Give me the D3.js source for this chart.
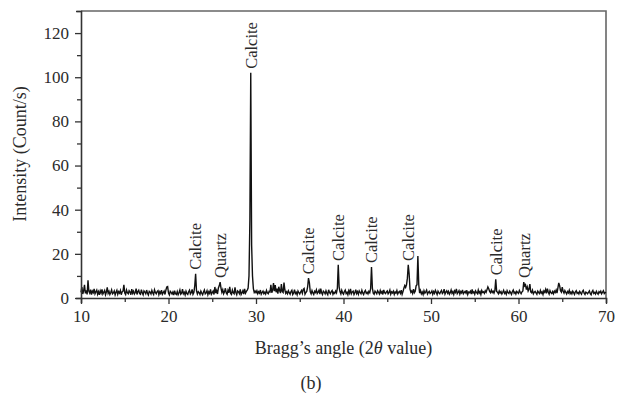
<!DOCTYPE html>
<html lang="en">
<head>
    <meta charset="utf-8"/>
    <title>XRD pattern (b)</title>
    <script src="https://d3js.org/d3.v7.min.js"></script>
    <style>
        body { margin: 0; background: #fff; }
        svg text { font-family: "Liberation Serif", "DejaVu Serif", serif; fill: #2b2b2b; }
    </style>
</head>
<body>
<svg id="chart" width="620" height="396"></svg>
<script>
    // 2theta from 10.0 to 70.0, step 0.1 (one row = one degree)
    const startAngle = 10;
    const stepAngle = 0.1;
    const counts = [
        2.5, 5, 1.8, 3.2, 6, 2.1, 3.5, 1.6, 8, 3,
        2.2, 3.8, 1.5, 3.1, 2.4, 4.1, 1.9, 2.8, 3.6, 1.7,
        2.9, 1.4, 3.3, 2.2, 3.9, 1.8, 2.6, 3.4, 1.5, 2.7,
        4.8, 2.1, 3, 1.6, 2.5, 3.7, 1.9, 2.3, 3.2, 1.4,
        2.6, 3.5, 1.7, 2.9, 2.2, 3.4, 1.5, 2.8, 3.1, 6,
        2.3, 1.6, 3.6, 2.4, 1.9, 3.3, 2.7, 1.5, 4, 2.2,
        3.1, 1.8, 2.5, 4.2, 1.6, 2.9, 3.5, 2, 1.7, 3.8,
        2.4, 1.5, 3.2, 2.7, 1.9, 3.6, 2.2, 1.4, 3, 2.6,
        1.8, 3.4, 2.3, 1.6, 3.7, 2.5, 1.9, 2.9, 3.3, 1.5,
        2.8, 2.1, 3.5, 1.7, 2.4, 3.1, 1.6, 3.6, 5, 5.2,
        2.2, 1.4, 3, 2.5, 1.8, 2.7, 1.3, 3.3, 2, 1.6,
        2.9, 1.5, 2.4, 3.6, 1.7, 2.2, 4, 1.9, 2.6, 1.4,
        3.1, 2, 1.6, 2.8, 3.5, 1.8, 2.4, 3.9, 1.7, 2.5,
        5.5, 11, 3.2, 1.8, 2.9, 2.4, 1.6, 3.1, 2.2, 1.5,
        2.7, 3.6, 1.9, 2.3, 3.3, 1.5, 2.8, 2.1, 3.9, 1.7,
        2.4, 3.1, 1.6, 5, 2.2, 3.4, 1.8, 4.6, 5.5, 7.2,
        4.5, 2.6, 3.8, 1.9, 2.8, 4.4, 2.3, 1.7, 3.5, 2.4,
        5, 2.1, 1.6, 3.6, 2.4, 1.9, 4.8, 2.5, 1.5, 3.2,
        2.8, 2, 3.9, 1.6, 2.4, 3.3, 1.8, 4.1, 2.2, 3,
        3.6, 4.5, 10, 35, 102, 24, 10, 4.2, 2.5, 3.1,
        2.4, 3.3, 1.9, 2.8, 2.2, 3.6, 1.7, 2.5, 3.1, 2,
        2.6, 1.8, 3.4, 2.3, 1.9, 3, 2.7, 6, 2.4, 3.5,
        6.8, 3.1, 5.9, 2.6, 4.2, 2, 5.1, 3.4, 2.2, 6.3,
        3, 2.5, 7, 3.6, 2.1, 2.8, 1.9, 3.3, 2.4, 1.7,
        2.9, 3.5, 1.6, 2.3, 3.8, 2, 2.6, 1.5, 3.2, 2.4,
        1.8, 2.7, 3.4, 2.1, 3.9, 4.3, 1.7, 2.5, 3, 5,
        9, 7, 2.8, 1.9, 3.4, 2.3, 1.6, 3, 2.5, 3.7,
        2, 2.6, 3.5, 1.8, 4.2, 2.4, 1.6, 3.1, 2.7, 1.9,
        3.3, 2.2, 1.5, 3.7, 2.5, 1.9, 2.9, 3.4, 1.7, 2.6,
        2.1, 3.2, 2.4, 4.5, 15, 5, 2.8, 1.8, 3.5, 2.3,
        1.7, 2.9, 3.6, 2, 2.6, 1.5, 3.3, 2.2, 4.1, 1.9,
        2.7, 3.1, 1.6, 2.4, 3.8, 2, 2.9, 1.7, 3.2, 2.5,
        1.9, 3.5, 2.3, 1.6, 2.8, 3.4, 2.1, 2.6, 1.8, 3,
        2.4, 4.2, 14, 4.5, 2.2, 1.7, 3.1, 2.5, 1.9, 3.3,
        2.6, 1.8, 3.4, 2.2, 2.9, 1.6, 3.7, 2.4, 2, 2.8,
        3.2, 1.9, 2.5, 3.6, 1.7, 2.8, 2.3, 3.1, 1.6, 2.7,
        2.2, 3.4, 1.8, 2.6, 3, 2.1, 3.5, 1.7, 2.9, 4.4,
        5.6, 4.8, 6, 9, 15, 11, 4, 2.6, 3.2, 2.1,
        4, 2.4, 3.1, 5.5, 6, 19, 6, 2.2, 3.4, 1.9,
        2.7, 1.6, 3.3, 2.2, 2.8, 3.6, 1.8, 2.5, 3, 2,
        2.4, 3.2, 1.7, 2.9, 2.1, 3.5, 2.6, 1.6, 3.1, 2.3,
        1.9, 2.8, 3.4, 2, 2.5, 4, 1.8, 2.7, 3.3, 2.2,
        3, 1.7, 2.4, 3.6, 2.1, 2.9, 1.6, 3.2, 2.5, 4.1,
        2, 2.6, 3.3, 1.8, 2.9, 2.3, 3.7, 1.9, 2.5, 3,
        2.2, 3.5, 1.6, 2.7, 2.4, 3.1, 1.8, 3.9, 2.3, 2.8,
        1.7, 3.2, 2.5, 2, 3.6, 2.2, 2.9, 1.6, 3.4, 2.5,
        2.8, 2.1, 3.3, 2.6, 3.8, 5, 4.2, 3, 2.4, 3.6,
        2.5, 3.1, 2.2, 3.4, 8.5, 3, 2.6, 1.9, 3.2, 2.3,
        2.9, 1.8, 2.6, 3.5, 2.1, 2.7, 1.7, 3.3, 2.4, 2,
        3.1, 2.4, 1.6, 2.9, 3.6, 2.2, 2.7, 1.8, 3, 2.5,
        2.1, 3.4, 2.6, 1.9, 2.8, 3.2, 7.2, 5.5, 6, 3.8,
        5, 3.2, 4.1, 6.3, 2.8, 2.4, 3.5, 1.9, 2.6, 3,
        2.3, 1.7, 3.1, 2.5, 2, 3.4, 2.2, 2.8, 1.6, 3.2,
        2.6, 3.9, 2.1, 4.2, 2.7, 1.8, 3.3, 2.4, 2, 2.9,
        1.9, 3.1, 2.5, 3.6, 2.2, 4.5, 6.8, 5.6, 3.3, 2.7,
        4.9, 3, 2.2, 3.4, 2.6, 1.8, 2.9, 2.3, 3.5, 2,
        2.7, 1.9, 3.1, 2.4, 1.6, 2.8, 3.3, 2.1, 2.5, 1.8,
        3, 2.3, 1.7, 2.9, 3.5, 2.2, 1.6, 2.7, 2.4, 1.9,
        2.6, 3.2, 2, 1.5, 2.8, 3.4, 2.1, 2.5, 1.8, 3,
        2.2, 1.7, 2.9, 2.4, 3.1, 1.9, 2.6, 3.3, 2, 2.5,
        2.3
    ];

    // peak labels: angle, peak height, phase
    const peakAngles = [23.1, 25.9, 29.4, 36.0, 39.4, 43.2, 47.45, 57.4, 60.7];
    const peakHeights = [11, 7.2, 102, 9, 15, 14, 15, 8.5, 7.2];
    const peakNames = ["Calcite", "Quartz", "Calcite", "Calcite", "Calcite", "Calcite", "Calcite", "Calcite", "Quartz"];

    const xTicks = [10, 20, 30, 40, 50, 60, 70];
    const yTicks = [0, 20, 40, 60, 80, 100, 120];

    const margin = {top: 11, right: 14, bottom: 98, left: 81};
    const width = 620 - margin.left - margin.right;
    const height = 396 - margin.top - margin.bottom;

    const svg = d3.select("#chart");
    const g = svg.append("g").attr("transform", `translate(${margin.left},${margin.top})`);

    const x = d3.scaleLinear().domain([10, 70]).range([0, width]);
    const y = d3.scaleLinear().domain([0, 130]).range([height, 0]);

    const data = counts.map((c, i) => ({a: startAngle + i * stepAngle, c: c}));

    // frame top / right
    g.append("path")
        .attr("d", `M0,0H${width}V${height}`)
        .attr("fill", "none")
        .attr("stroke", "#666")
        .attr("stroke-width", 1.6);

    // the pattern
    g.append("path")
        .datum(data)
        .attr("fill", "none")
        .attr("stroke", "#111")
        .attr("stroke-width", 1.4)
        .attr("stroke-linejoin", "miter")
        .attr("d", d3.line().x(d => x(d.a)).y(d => y(d.c)));

    // axes
    const xAxis = g.append("g")
        .attr("transform", `translate(0,${height})`)
        .call(d3.axisBottom(x).tickValues(d3.range(10, 70.1, 5)).tickSize(5)
            .tickFormat(d => xTicks.includes(d) ? d : ""));
    xAxis.selectAll(".tick line").attr("y2", d => xTicks.includes(d) ? 6 : 4);

    const yAxis = g.append("g")
        .call(d3.axisLeft(y).tickValues(d3.range(0, 130.1, 10)).tickSize(5)
            .tickFormat(d => yTicks.includes(d) ? d : ""));
    yAxis.selectAll(".tick line").attr("x2", d => yTicks.includes(d) ? -6 : -4);

    [xAxis, yAxis].forEach(ax => {
        ax.select(".domain").attr("stroke", "#333").attr("stroke-width", 1.6);
        ax.selectAll(".tick line").attr("stroke", "#333").attr("stroke-width", 1.3);
        ax.selectAll("text").style("font-size", "17px")
            .style("font-family", "'Liberation Serif', serif").attr("fill", "#2b2b2b");
    });
    xAxis.selectAll("text").attr("dy", "0.95em");
    yAxis.selectAll("text").attr("x", -12);

    // peak names
    g.selectAll(".peak")
        .data(peakAngles)
        .enter()
        .append("text")
        .attr("class", "peak")
        .attr("transform", (d, i) => `translate(${x(d)},${y(peakHeights[i]) - 4}) rotate(-90)`)
        .attr("dy", "0.35em")
        .style("font-size", "16.5px")
        .text((d, i) => peakNames[i]);

    // titles
    svg.append("text")
        .attr("transform", `translate(20,154) rotate(-90)`)
        .attr("text-anchor", "middle")
        .attr("dy", "0.35em")
        .style("font-size", "18px")
        .text("Intensity (Count/s)");

    const xTitle = svg.append("text")
        .attr("x", margin.left + width / 2)
        .attr("y", 354)
        .attr("text-anchor", "middle")
        .style("font-size", "18px");
    xTitle.append("tspan").text("Bragg\u2019s angle (2");
    xTitle.append("tspan").style("font-style", "italic").text("\u03b8");
    xTitle.append("tspan").text(" value)");

    svg.append("text")
        .attr("x", 311)
        .attr("y", 389)
        .attr("text-anchor", "middle")
        .style("font-size", "18px")
        .text("(b)");
</script>
</body>
</html>
